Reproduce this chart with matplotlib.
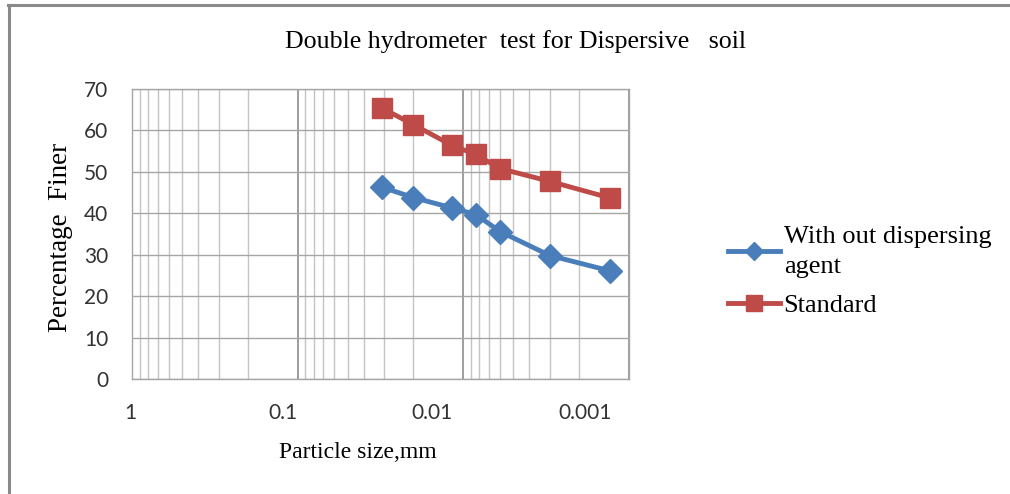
import matplotlib
matplotlib.use("Agg")
import matplotlib.pyplot as plt
import matplotlib.transforms as mtransforms
from matplotlib.lines import Line2D
from matplotlib.ticker import LogLocator, FixedLocator, FixedFormatter, NullFormatter

# particle size (mm) and percentage finer
size_mm = [0.031, 0.020, 0.0117, 0.0084, 0.0060, 0.0030, 0.0013]
no_agent = [46.3, 43.8, 41.3, 39.7, 35.6, 29.8, 26.1]
standard = [65.4, 61.4, 56.4, 54.2, 50.8, 47.7, 43.7]

x_ticks = [1, 0.1, 0.01, 0.001]
x_tick_labels = ["1", "0.1", "0.01", "0.001"]
y_ticks = [0, 10, 20, 30, 40, 50, 60, 70]

SERIF = "Liberation Serif"
SANS = "Lato"
BLUE = "#4a7ebb"
RED = "#be4b48"

fig = plt.figure(figsize=(10.1, 4.94), dpi=100)
ax = fig.add_axes([0.1307, 0.2328, 0.492, 0.587])

ax.plot(size_mm, no_agent, color=BLUE, lw=3.5, marker="D", ms=12.5,
        mfc=BLUE, mec=BLUE, label="With out dispersing\nagent", zorder=3)
ax.plot(size_mm, standard, color=RED, lw=3.5, marker="s", ms=15,
        mfc=RED, mec=RED, label="Standard", zorder=3)

ax.set_xscale("log")
ax.set_xlim(1, 0.001)
ax.set_ylim(0, 70)
ax.xaxis.set_major_locator(FixedLocator(x_ticks))
ax.xaxis.set_major_formatter(FixedFormatter(x_tick_labels))
ax.xaxis.set_minor_locator(LogLocator(base=10, subs=range(2, 10)))
ax.xaxis.set_minor_formatter(NullFormatter())
ax.set_yticks(y_ticks)

ax.grid(True, axis="y", which="major", color="#a6a6a6", lw=1.0)
ax.grid(True, axis="x", which="major", color="#8c8c8c", lw=1.2)
ax.grid(True, axis="x", which="minor", color="#c4c4c4", lw=1.0)
ax.set_axisbelow(True)
for s in ax.spines.values():
    s.set_color("#a6a6a6")
    s.set_linewidth(1.0)

ax.tick_params(axis="both", which="both", length=0, labelcolor="#333333",
               labelsize=15)
ax.tick_params(axis="y", pad=17)
ax.tick_params(axis="x", pad=17)
for lab in ax.get_xticklabels() + ax.get_yticklabels():
    lab.set_fontfamily(SANS)

# Excel places the reversed log labels slightly left of their gridlines
shifts = [-2, -15, -31, -44]
for lab, dx in zip(ax.get_xticklabels(), shifts):
    off = mtransforms.ScaledTranslation(dx / 100.0, 0, fig.dpi_scale_trans)
    lab.set_transform(lab.get_transform() + off)

fig.text(0.51, 0.915, "Double hydrometer  test for Dispersive   soil",
         ha="center", va="center", fontsize=18.6, fontfamily=SERIF)
fig.text(0.354, 0.085, "Particle size,mm", ha="center", va="center",
         fontsize=17, fontfamily=SERIF)
fig.text(0.06, 0.52, "Percentage  Finer", ha="center", va="center",
         rotation=90, fontsize=19.5, fontfamily=SERIF)

leg = fig.legend(loc="center left", bbox_to_anchor=(0.721, 0.45), frameon=False,
                 prop={"family": SERIF, "size": 19}, handlelength=1.95,
                 handletextpad=0.15, labelspacing=0.6, markerscale=0.75,
                 borderpad=0, borderaxespad=0)
leg.get_texts()[0].set_linespacing(1.45)

# outer chart border (top and left edges visible)
fig.add_artist(Line2D([0.009, 0.009], [0.0, 0.99], transform=fig.transFigure,
                      color="#8a8a8a", lw=2.2))
fig.add_artist(Line2D([0.008, 1.0], [0.99, 0.99], transform=fig.transFigure,
                      color="#8a8a8a", lw=2.2))

fig.savefig("out.png", dpi=100)
